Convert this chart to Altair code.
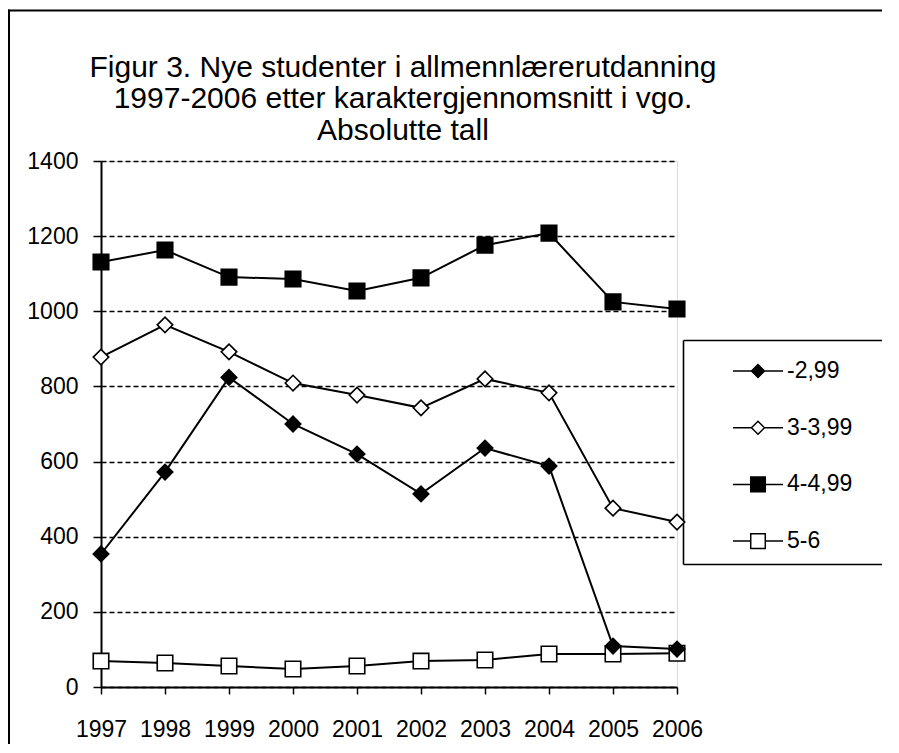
import altair as alt
import pandas as pd

years = [1997, 1998, 1999, 2000, 2001, 2002, 2003, 2004, 2005, 2006]
series_names = ["-2,99", "3-3,99", "4-4,99", "5-6"]
v_low = [354, 572, 824, 700, 620, 514, 636, 588, 109, 101]
v_3 = [878, 964, 892, 809, 777, 743, 820, 783, 476, 439]
v_4 = [1131, 1163, 1091, 1086, 1054, 1089, 1176, 1208, 1025, 1006]
v_5 = [69, 64, 56, 48, 56, 69, 72, 88, 88, 90]
y_ticks = [0, 200, 400, 600, 800, 1000, 1200, 1400]
title_lines = [
    "Figur 3. Nye studenter i allmennlærerutdanning",
    "1997-2006 etter karaktergjennomsnitt i vgo.",
    "Absolutte tall",
]

values_by_series = {"-2,99": v_low, "3-3,99": v_3, "4-4,99": v_4, "5-6": v_5}
rows = []
# draw order: last series first so that "-2,99" markers end up on top
for s in ["5-6", "4-4,99", "3-3,99", "-2,99"]:
    for yr, v in zip(years, values_by_series[s]):
        rows.append({"year": yr, "value": v, "series": s})
df = pd.DataFrame(rows)

FONT = "Liberation Sans"
W, H = 576, 526
PAD_R = 214
EDGE = W + PAD_R - 1

x_enc = alt.X(
    "year:Q",
    scale=alt.Scale(domain=[1997, 2006], nice=False, zero=False),
    axis=alt.Axis(
        values=years, format="d", title=None, grid=False,
        labelFlush=False, labelOverlap=False,
        tickSize=7, tickColor="black", tickWidth=1.5,
        domainColor="black", domainWidth=2,
        labelFontSize=23, labelFont=FONT, labelColor="black", labelPadding=24,
    ),
)
y_enc = alt.Y(
    "value:Q",
    scale=alt.Scale(domain=[0, 1400], nice=False),
    axis=alt.Axis(
        values=y_ticks, format="d", title=None, grid=True,
        gridColor="black", gridDash=[5, 3], gridWidth=1.3,
        labelFlush=False, labelOverlap=False,
        tickSize=8, tickColor="black", tickWidth=1.5,
        domainColor="black", domainWidth=2,
        labelFontSize=23, labelFont=FONT, labelColor="black", labelPadding=15,
    ),
)

base = alt.Chart(df)

lines = base.mark_line(color="black", strokeWidth=2).encode(
    x=x_enc, y=y_enc, detail="series:N", order="year:Q"
)

points = base.mark_point(stroke="black", strokeWidth=1.6, opacity=1, fillOpacity=1).encode(
    x="year:Q",
    y="value:Q",
    shape=alt.Shape(
        "series:N",
        scale=alt.Scale(domain=series_names, range=["diamond", "diamond", "square", "square"]),
        legend=None,
    ),
    fill=alt.Fill(
        "series:N",
        scale=alt.Scale(domain=series_names, range=["black", "white", "black", "white"]),
        legend=None,
    ),
    size=alt.value(240),
)

dia = "M-3.85,0L-1,0M1,0L3.85,0M0,-1L1,0L0,1L-1,0Z"
sq = "M-3.85,0L-1.12,0M1.12,0L3.85,0M-1.12,-1.12L1.12,-1.12L1.12,1.12L-1.12,1.12Z"


def leg():
    return alt.Legend(
        title=None, orient="none", legendX=645.5, legendY=198.5,
        symbolSize=169, symbolStrokeWidth=1.5, symbolStrokeColor="black",
        symbolOpacity=1,
        labelFontSize=23, labelFont=FONT, labelColor="black",
        labelOffset=17.5, rowPadding=32.7, padding=0,
    )


legend_layer = base.transform_filter("false").mark_point(
    strokeWidth=1.5, opacity=1, fillOpacity=1
).encode(
    x="year:Q",
    y="value:Q",
    shape=alt.Shape(
        "series:N",
        scale=alt.Scale(domain=series_names, range=[dia, dia, sq, sq]),
        legend=leg(),
    ),
    fill=alt.Fill(
        "series:N",
        scale=alt.Scale(domain=series_names, range=["black", "white", "black", "white"]),
        legend=leg(),
    ),
    stroke=alt.Stroke(
        "series:N",
        scale=alt.Scale(domain=series_names, range=["black", "black", "black", "black"]),
        legend=leg(),
    ),
)

deco = alt.Chart(alt.Data(values=[{"k": 1}]))
frame_left = deco.mark_rule(color="black", strokeWidth=2).encode(
    x=alt.value(-92), y=alt.value(-151.5), y2=alt.value(H + 57)
)
frame_top = deco.mark_rule(color="black", strokeWidth=2).encode(
    x=alt.value(-93), x2=alt.value(EDGE - 8), y=alt.value(-150.5)
)
lb_left = deco.mark_rule(color="black", strokeWidth=1.6).encode(
    x=alt.value(582.5), y=alt.value(179.5), y2=alt.value(403.5)
)
lb_top = deco.mark_rule(color="black", strokeWidth=1.6).encode(
    x=alt.value(582.5), x2=alt.value(EDGE - 8), y=alt.value(179.5)
)
lb_bottom = deco.mark_rule(color="black", strokeWidth=1.6).encode(
    x=alt.value(582.5), x2=alt.value(EDGE - 8), y=alt.value(403.5)
)

title_layers = []
for line, yy in zip(title_lines, [-84.5, -53, -21.5]):
    title_layers.append(
        deco.mark_text(
            font=FONT, fontSize=30, color="black", align="center", baseline="alphabetic"
        ).encode(x=alt.value(302), y=alt.value(yy), text=alt.value(line))
    )

chart = (
    alt.layer(
        frame_left, frame_top, lb_left, lb_top, lb_bottom,
        *title_layers, lines, points, legend_layer,
    )
    .resolve_scale(shape="independent", fill="independent", stroke="independent")
    .properties(
        width=W,
        height=H,
        autosize=alt.AutoSizeParams(type="none"),
        padding={"left": 93, "top": 153, "right": PAD_R, "bottom": 58},
    )
    .configure_view(strokeWidth=0)
    .configure(background="white")
)

chart.save("out.html", embed_options={"renderer": "svg", "actions": False})
